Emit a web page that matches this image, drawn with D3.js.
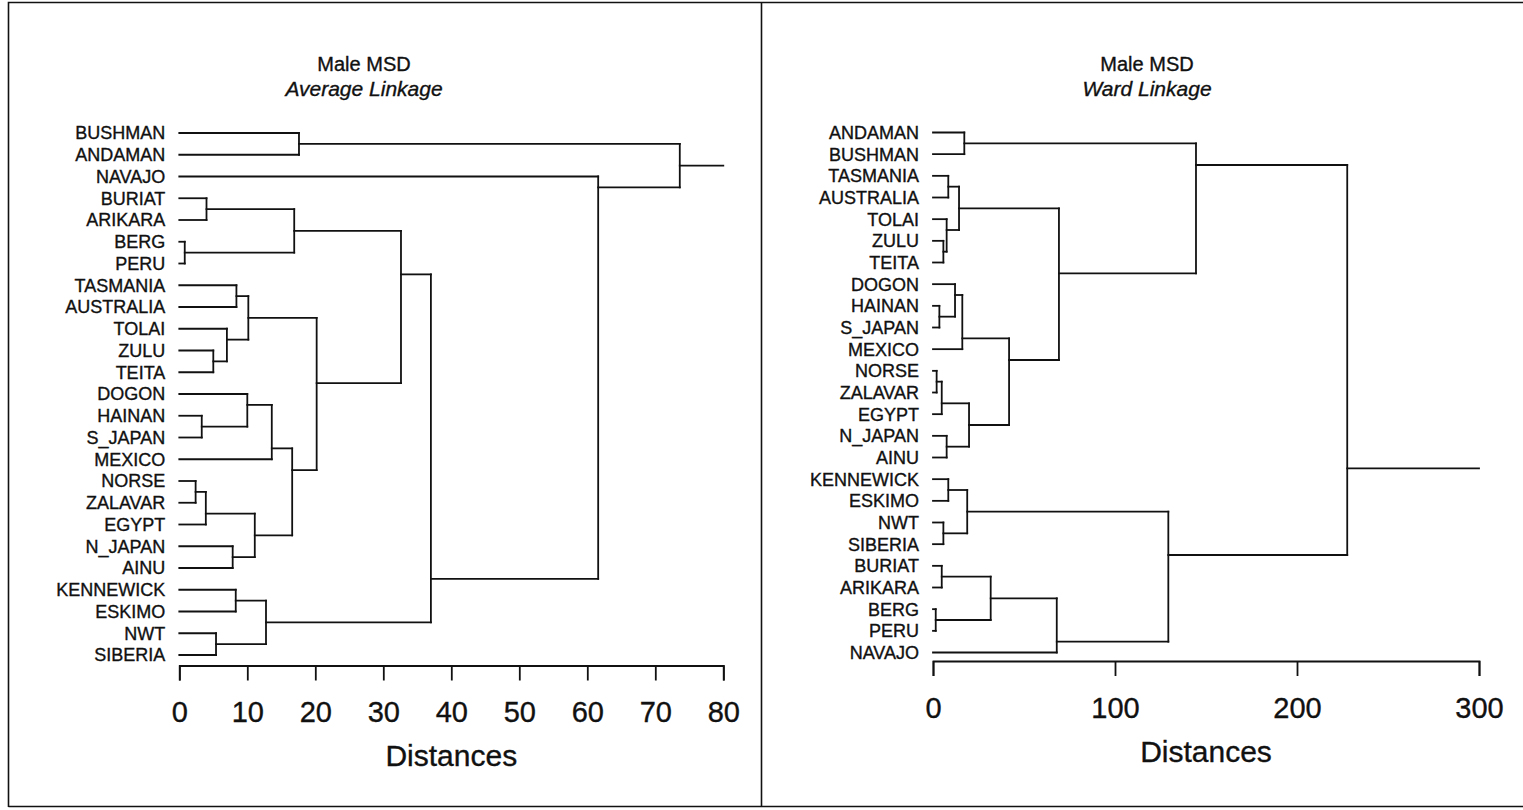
<!DOCTYPE html>
<html>
<head>
<meta charset="utf-8">
<script src="https://cdnjs.cloudflare.com/ajax/libs/d3/7.8.5/d3.min.js"></script>
<style>
body { margin: 0; background: #fff; }
svg { display: block; font-family: "Liberation Sans", Arial, sans-serif; }
svg text { stroke: #111; stroke-width: 0.35px; }
</style>
</head>
<body>
<div id="chart"></div>
<script>
const width = 1523,
    height = 810

// leaf order as drawn, top to bottom
const avgLeaves = ['BUSHMAN', 'ANDAMAN', 'NAVAJO', 'BURIAT', 'ARIKARA', 'BERG', 'PERU',
    'TASMANIA', 'AUSTRALIA', 'TOLAI', 'ZULU', 'TEITA', 'DOGON', 'HAINAN', 'S_JAPAN',
    'MEXICO', 'NORSE', 'ZALAVAR', 'EGYPT', 'N_JAPAN', 'AINU', 'KENNEWICK', 'ESKIMO',
    'NWT', 'SIBERIA']
// [left, right, distance]; 0..24 = leaves, 25.. = earlier merges
const avgMerges = [
    [5, 6, 0.8], [16, 17, 2.4], [13, 14, 3.3], [3, 4, 4.0], [26, 18, 3.9],
    [10, 11, 5.0], [23, 24, 5.4], [9, 30, 7.0], [19, 20, 7.85], [21, 22, 8.3],
    [7, 8, 8.4], [12, 27, 10.0], [35, 32, 10.15], [29, 33, 11.1], [34, 31, 12.75],
    [36, 15, 13.6], [40, 38, 16.6], [28, 25, 16.9], [0, 1, 17.6], [37, 41, 20.2],
    [42, 44, 32.6], [45, 39, 37.0], [2, 46, 61.6], [43, 47, 73.6]
]
const avgTicks = [0, 10, 20, 30, 40, 50, 60, 70, 80]

const wardLeaves = ['ANDAMAN', 'BUSHMAN', 'TASMANIA', 'AUSTRALIA', 'TOLAI', 'ZULU', 'TEITA',
    'DOGON', 'HAINAN', 'S_JAPAN', 'MEXICO', 'NORSE', 'ZALAVAR', 'EGYPT', 'N_JAPAN', 'AINU',
    'KENNEWICK', 'ESKIMO', 'NWT', 'SIBERIA', 'BURIAT', 'ARIKARA', 'BERG', 'PERU', 'NAVAJO']
const wardMerges = [
    [22, 23, 1.5], [11, 12, 2.0], [8, 9, 3.5], [26, 13, 4.8], [20, 21, 4.8],
    [5, 6, 5.7], [18, 19, 5.7], [4, 30, 7.5], [14, 15, 7.5], [2, 3, 8.4],
    [16, 17, 8.4], [7, 27, 12.1], [34, 32, 14.3], [36, 10, 16.1], [0, 1, 17.2],
    [35, 31, 18.8], [28, 33, 19.8], [29, 25, 31.7], [38, 41, 41.8], [42, 24, 68.0],
    [37, 43, 69.2], [40, 44, 129.3], [39, 45, 144.5], [47, 46, 227.6]
]
const wardTicks = [0, 100, 200, 300]

const panels = [
    {leaves: avgLeaves, merges: avgMerges, ticks: avgTicks, title: 'Male MSD', sub: 'Average Linkage',
        x0: 179.3, x1: 723.3, top: 133, bottom: 655, axisY: 665.5, titleX: 364, labelY: 766},
    {leaves: wardLeaves, merges: wardMerges, ticks: wardTicks, title: 'Male MSD', sub: 'Ward Linkage',
        x0: 933, x1: 1479, top: 132.5, bottom: 652.5, axisY: 661, titleX: 1147, labelY: 762}
]

const svg = d3.select('#chart')
    .append('svg')
    .attr('width', width)
    .attr('height', height)

// frame
svg.append('path')
    .attr('d', 'M8.5,807V2.5H1523M761.5,2.5V807M8.5,806.5H1523')
    .attr('fill', 'none')
    .attr('stroke', '#111')
    .attr('stroke-width', 1.6)

panels.forEach(function (p) {
    const g = svg.append('g')
    const x = d3.scaleLinear()
        .domain([0, d3.max(p.ticks)])
        .range([p.x0, p.x1])
    const y = d3.scalePoint()
        .domain(p.leaves)
        .range([p.top, p.bottom])

    const nodes = p.leaves.map(function (name, i) {
        return {lo: i, hi: i, h: 0, y: y(name)}
    })
    const segs = []
    p.merges.forEach(function (m) {
        const a = nodes[m[0]], b = nodes[m[1]]
        const node = {
            lo: a.lo, hi: b.hi, h: m[2],
            y: (y(p.leaves[a.hi]) + y(p.leaves[b.lo])) / 2
        }
        segs.push([a.h, a.y, node.h, a.y])
        segs.push([b.h, b.y, node.h, b.y])
        segs.push([node.h, a.y, node.h, b.y])
        nodes.push(node)
    })
    const root = nodes[nodes.length - 1]
    segs.push([root.h, root.y, d3.max(p.ticks), root.y])

    g.append('g')
        .selectAll('line')
        .data(segs)
        .enter().append('line')
        .attr('x1', d => x(d[0]))
        .attr('y1', d => d[1])
        .attr('x2', d => x(d[2]))
        .attr('y2', d => d[3])
        .attr('stroke', '#111')
        .attr('stroke-width', 1.8)
        .attr('stroke-linecap', 'square')

    g.append('g')
        .selectAll('text')
        .data(p.leaves)
        .enter().append('text')
        .attr('x', p.x0 - 14)
        .attr('y', d => y(d))
        .attr('dy', '0.36em')
        .attr('text-anchor', 'end')
        .attr('font-size', 18)
        .attr('fill', '#111')
        .text(d => d)

    const axis = g.append('g')
        .attr('transform', 'translate(0,' + p.axisY + ')')
        .call(d3.axisBottom(x).tickValues(p.ticks).tickSize(15).tickSizeOuter(15).tickPadding(21))
    axis.select('.domain').attr('stroke', '#111').attr('stroke-width', 1.8)
    axis.selectAll('.tick line').attr('stroke', '#111').attr('stroke-width', 1.8)
    axis.selectAll('.tick text')
        .attr('font-size', 29)
        .attr('font-family', '"Liberation Sans", Arial, sans-serif')
        .attr('fill', '#111')

    g.append('text')
        .attr('x', (p.x0 + p.x1) / 2)
        .attr('y', p.labelY)
        .attr('text-anchor', 'middle')
        .attr('font-size', 30)
        .attr('fill', '#111')
        .text('Distances')

    g.append('text')
        .attr('x', p.titleX)
        .attr('y', 71)
        .attr('text-anchor', 'middle')
        .attr('font-size', 20)
        .attr('fill', '#111')
        .text(p.title)
    g.append('text')
        .attr('x', p.titleX)
        .attr('y', 96)
        .attr('text-anchor', 'middle')
        .attr('font-size', 21)
        .attr('font-style', 'italic')
        .attr('fill', '#111')
        .text(p.sub)
})
</script>
</body>
</html>
